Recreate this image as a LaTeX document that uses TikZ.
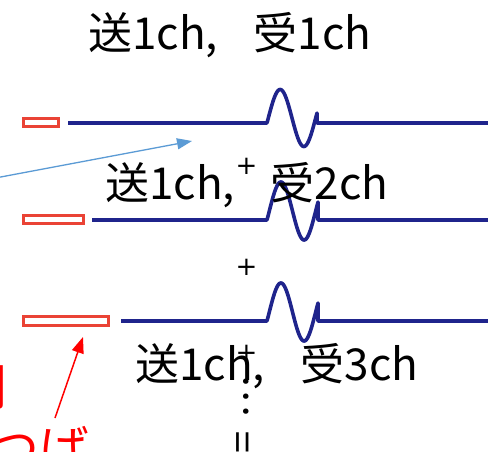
\documentclass[tikz,border=0pt]{standalone}
\usepackage{fontspec}
\newfontfamily\jpfont{Noto Sans CJK JP}
\newfontfamily\djfont{DejaVu Sans}
\usetikzlibrary{arrows.meta}
\definecolor{wireblue}{RGB}{31,36,140}
\definecolor{boxred}{RGB}{234,67,53}
\definecolor{ptrblue}{RGB}{91,155,213}
\newcommand\wavewire[6]{% start x, line y, center y, amplitude, phase0, end x of wave
  \draw[wire] (#1,#2) -- (267,#2) -- plot[domain=-#5:360+#5, samples=80]
    ({267+(\x+#5)/(360+2*#5)*(#6-267)},{#3-#4*sin(\x)}) -- (#6,#2) -- (490,#2);
}
\begin{document}
\begin{tikzpicture}[x=1pt,y=-1pt,
  wire/.style={draw=wireblue, line width=3.6pt, line join=round},
  redbox/.style={draw=boxred, line width=3.4pt, fill=white},
  chlabel/.style={anchor=base west, inner sep=0pt, font=\jpfont\fontsize{44}{54}\selectfont},
  notelabel/.style={inner sep=0pt, text=red, font=\jpfont\fontsize{50}{60}\selectfont},
  plussign/.style={inner sep=0pt, font=\djfont\fontsize{26}{30}\selectfont},
  ptrarrow/.style={draw=ptrblue, line width=1.3pt, -{Triangle[length=15pt, width=11pt]}},
  redarrow/.style={draw=red, line width=1.5pt, -{Triangle[length=16pt, width=12pt]}}]
\useasboundingbox (0,0) rectangle (488,452);
\clip (0,0) rectangle (488,452);
\fill[white] (0,0) rectangle (488,452);

% red boxes
\draw[redbox] (23.7,118.7) rectangle (58.3,126.3);
\draw[redbox] (23.7,215.7) rectangle (83.3,223.3);
\draw[redbox] (23.7,316.7) rectangle (108.3,325.3);

% wires with pulses
\wavewire{68}{123}{118}{28.5}{10}{317}
\wavewire{92}{220}{211}{29}{18}{318}
\wavewire{121}{321}{312}{29}{18}{318}

% labels
\node[chlabel] (t1) at (88,50) {送1ch,\hspace{36pt}受1ch};
\node[chlabel] (t2) at (105,200) {送1ch,\hspace{36pt}受2ch};
\node[chlabel] (t3) at (135,380) {送1ch,\hspace{36pt}受3ch};

% plus signs and dots
\node[plussign] (p1) at (246.5,166.5) {+};
\node[plussign] (p2) at (246.5,267.5) {+};
\node[plussign] (p3) at (246.5,353.5) {+};
\node[inner sep=0pt, rotate=90, font=\jpfont\fontsize{40}{50}\selectfont] (dots) at (246.7,397) {…};
\node[inner sep=0pt, rotate=90, font=\jpfont\fontsize{40}{48}\selectfont] (eq) at (246.7,442) {=};

% red note text (cut off at the left edge)
\node[notelabel, anchor=base east] (n1) at (8,405) {間};
\node[notelabel, anchor=base west] (n2) at (-11,467) {つば};

% arrows
\coordinate (bstart) at (-2,177.5);
\coordinate (btip) at (192,141);
\draw[ptrarrow] (bstart) -- (btip);
\coordinate (rstart) at (55,418);
\coordinate (rtip) at (83,337);
\draw[redarrow] (rstart) -- (rtip);
\end{tikzpicture}
\end{document}
